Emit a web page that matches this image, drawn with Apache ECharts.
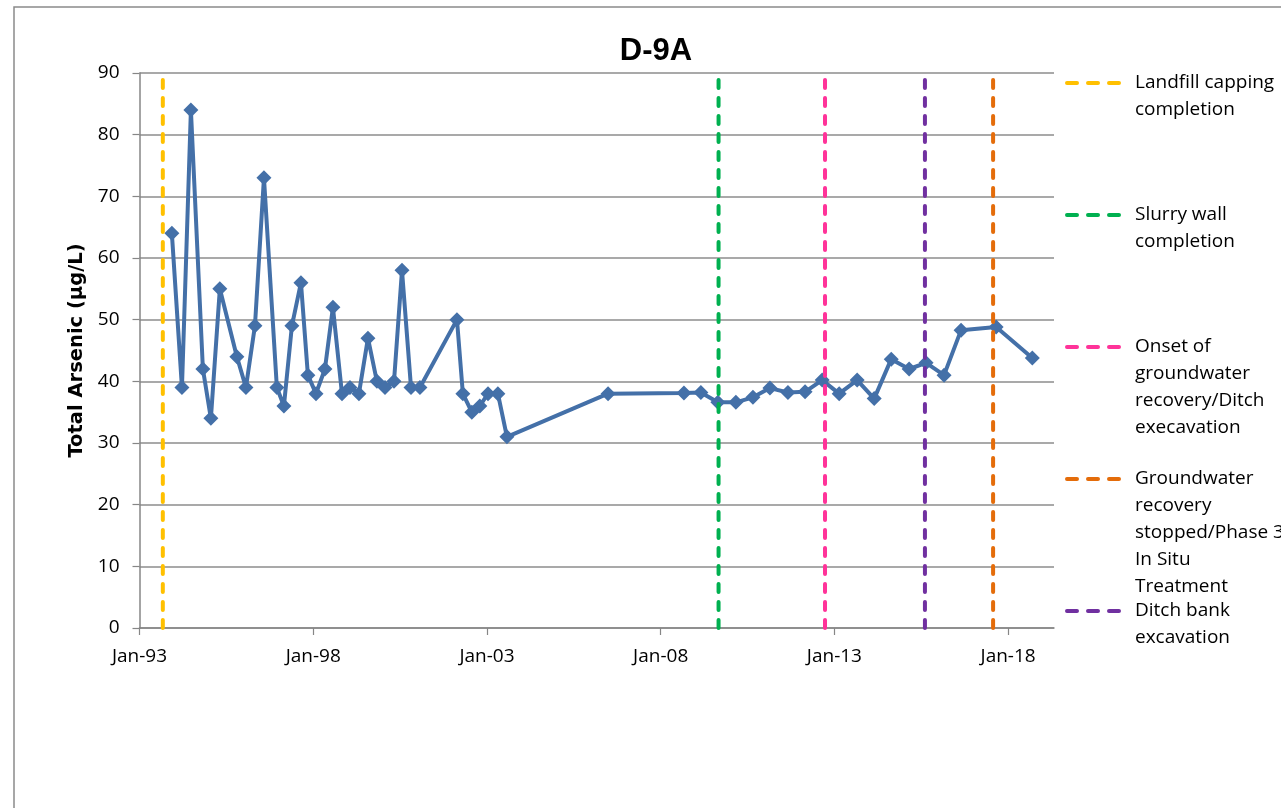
<!DOCTYPE html>
<html>
<head>
<meta charset="utf-8">
<script src="https://cdn.jsdelivr.net/npm/echarts@6/dist/echarts.min.js"></script>
<style>
  html, body { margin: 0; padding: 0; background: #fff; }
  #chart { width: 1281px; height: 808px; }
</style>
</head>
<body>
<div id="chart"></div>
<script>
// sample dates and total arsenic (ug/L) for well D-9A
const sampleDates = [
  '1993-12-07', '1994-03-23', '1994-06-25', '1994-10-29', '1995-01-21', '1995-04-25',
  '1995-10-21', '1996-01-24', '1996-04-28', '1996-08-01', '1996-12-15', '1997-02-27',
  '1997-05-22', '1997-08-25', '1997-11-06', '1998-01-30', '1998-05-04', '1998-07-27',
  '1998-10-30', '1999-01-22', '1999-04-26', '1999-07-30', '1999-11-01', '2000-01-25',
  '2000-04-29', '2000-07-22', '2000-10-25', '2001-01-27', '2002-02-20', '2002-04-23',
  '2002-07-26', '2002-10-18', '2003-01-12', '2003-04-26', '2003-07-30', '2006-06-27',
  '2008-09-02', '2009-02-27', '2009-08-25', '2010-03-02', '2010-08-28', '2011-02-23',
  '2011-08-31', '2012-02-27', '2012-08-25', '2013-02-20', '2013-08-28', '2014-02-23',
  '2014-08-21', '2015-02-25', '2015-08-22', '2016-02-27', '2016-08-24', '2017-08-28',
  '2018-09-12'
];
const arsenic = [
  64, 39, 84, 42, 34, 55,
  44, 39, 49, 73, 39, 36,
  49, 56, 41, 38, 42, 52,
  38, 39, 38, 47, 40, 39,
  40, 58, 39, 39, 50, 38,
  35, 36, 38, 38, 31, 38,
  38.1, 38.2, 36.6, 36.6, 37.4, 38.9,
  38.2, 38.3, 40.2, 38, 40.2, 37.2,
  43.6, 42, 43, 41, 48.3, 48.8,
  43.8
];

// remediation events (vertical dashed lines), in legend order
const eventNames = [
  'Landfill capping completion',
  'Slurry wall completion',
  'Onset of groundwater recovery/Ditch execavation',
  'Groundwater recovery stopped/Phase 3 In Situ Treatment',
  'Ditch bank excavation'
];
const eventLabels = [
  'Landfill capping\ncompletion',
  'Slurry wall\ncompletion',
  'Onset of\ngroundwater\nrecovery/Ditch\nexecavation',
  'Groundwater\nrecovery\nstopped/Phase 3\nIn Situ\nTreatment',
  'Ditch bank\nexcavation'
];
const eventDates = ['1993-09-03', '2009-09-01', '2012-09-24', '2017-07-27', '2015-08-10'];
const eventColors = ['#FFC000', '#00B050', '#FF3399', '#E46C0A', '#7030A0'];

const yTicks = [0, 10, 20, 30, 40, 50, 60, 70, 80, 90];
const startYear = 1993;

// date string -> years since Jan 1 1993
function toX (s) {
  const p = s.split('-').map(Number);
  const y = p[0];
  const t0 = Date.UTC(y, 0, 1), t1 = Date.UTC(y + 1, 0, 1);
  return y - startYear + (Date.UTC(y, p[1] - 1, p[2]) - t0) / (t1 - t0);
}

const FONT = 'Open Sans';
const mainData = sampleDates.map((d, i) => [toX(d), arsenic[i]]);

const series = [{
  name: 'D-9A',
  type: 'line',
  data: mainData,
  symbol: 'diamond',
  symbolSize: 15,
  itemStyle: { color: '#4470A8' },
  lineStyle: { color: '#4470A8', width: 4 },
  z: 3
}];
eventNames.forEach((n, i) => {
  const x = toX(eventDates[i]);
  series.push({
    name: n,
    type: 'line',
    data: [[x, yTicks[0]], [x, yTicks[yTicks.length - 1]]],
    symbol: 'none',
    color: eventColors[i],
    lineStyle: { color: eventColors[i], width: 4, type: [8, 10], cap: 'round' },
    z: 4
  });
});

// one legend per event so each entry keeps its own slot;
// leading blank lines put the swatch level with the first text line
const legendY = [83, 215, 347, 479, 611];
const LH = 27;
const legends = eventNames.map((n, i) => {
  const lines = eventLabels[i].split('\n').length;
  return {
    data: [n],
    left: 1065,
    top: legendY[i] - (lines - 0.5) * LH,
    padding: 0,
    itemWidth: 63,
    itemHeight: 14,
    itemGap: 0,
    selectedMode: false,
    itemStyle: { opacity: 0 },
    lineStyle: { width: 4, type: [10, 11], cap: 'round' },
    formatter: name => {
      const k = eventNames.indexOf(name);
      const m = eventLabels[k].split('\n').length;
      return '\n'.repeat(m - 1) + eventLabels[k];
    },
    textStyle: { fontFamily: FONT, fontSize: 19, color: '#000', lineHeight: LH }
  };
});

const option = {
  animation: false,
  backgroundColor: '#fff',
  title: {
    text: 'D-9A',
    left: 651,
    textAlign: 'center',
    top: 31,
    textStyle: { fontFamily: 'Liberation Sans', fontSize: 31, fontWeight: 'bold', color: '#000' }
  },
  graphic: [{
    type: 'rect',
    shape: { x: 14, y: 7, width: 1400, height: 900 },
    style: { fill: 'none', stroke: '#8a8a8a', lineWidth: 1.5 },
    silent: true
  }],
  legend: legends,
  grid: { left: 139.5, right: 227, top: 73, bottom: 180 },
  xAxis: {
    type: 'value',
    min: 0,
    max: 26.32,
    interval: 5,
    axisLine: { show: true, lineStyle: { color: '#868686', width: 1.5 } },
    axisTick: { show: true, length: 7, lineStyle: { color: '#868686', width: 1.2 } },
    splitLine: { show: false },
    axisLabel: {
      showMaxLabel: false,
      margin: 19,
      fontFamily: FONT, fontSize: 19, color: '#000',
      formatter: v => 'Jan-' + String((startYear + Math.round(v)) % 100).padStart(2, '0')
    }
  },
  yAxis: {
    type: 'value',
    min: yTicks[0],
    max: yTicks[yTicks.length - 1],
    interval: 10,
    name: 'Total Arsenic (µg/L)',
    nameLocation: 'middle',
    nameGap: 51,
    nameTextStyle: { fontFamily: 'DejaVu Sans', fontSize: 19.5, fontWeight: 'bold', color: '#000' },
    axisLine: { show: true, lineStyle: { color: '#868686', width: 1.5 } },
    axisTick: { show: true, length: 7, lineStyle: { color: '#868686', width: 1.2 } },
    splitLine: { lineStyle: { color: '#8c8c8c', width: 1.5 } },
    axisLabel: { margin: 20, fontFamily: FONT, fontSize: 19, color: '#000' }
  },
  series: series
};

const myChart = echarts.init(document.getElementById('chart'), null, { renderer: 'canvas' });
myChart.setOption(option);
</script>
</body>
</html>
